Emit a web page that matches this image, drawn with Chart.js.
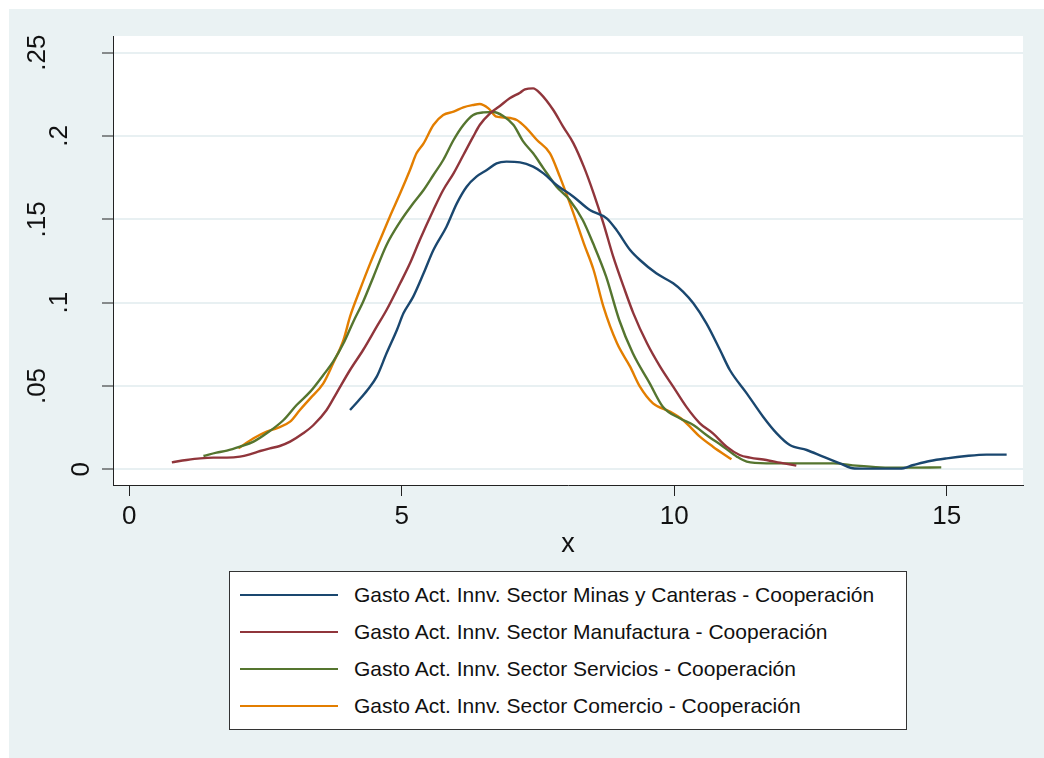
<!DOCTYPE html>
<html>
<head>
<meta charset="utf-8">
<script src="https://cdn.jsdelivr.net/npm/chart.js@4.4.1/dist/chart.umd.min.js"></script>
<style>
  html, body { margin: 0; padding: 0; background: #fff; }
  #wrap { position: absolute; left: 9px; top: 9px; width: 1035px; height: 749px; background: #eaf2f3; }
  #chart { display: block; }
  #legend {
    position: absolute; left: 220px; top: 562px; width: 676px; height: 157px;
    background: #fff; border: 1px solid #333;
    font-family: "Liberation Sans", Arial, sans-serif;
    font-size: 21px; color: #111;
  }
  .row { position: absolute; left: 0; height: 24px; display: flex; align-items: center; white-space: nowrap; }
  .sw { width: 98px; height: 2px; margin-left: 10px; margin-right: 16px; }
</style>
</head>
<body>
<div id="wrap">
  <canvas id="chart" width="1035" height="749"></canvas>
  <div id="legend"></div>
</div>
<script>
// Data (kernel density estimates)
var seriesNames = [
  "Gasto Act. Innv. Sector Minas y Canteras - Cooperación",
  "Gasto Act. Innv. Sector Manufactura - Cooperación",
  "Gasto Act. Innv. Sector Servicios - Cooperación",
  "Gasto Act. Innv. Sector Comercio - Cooperación"
];
var seriesColors = ["#1a476f", "#90353b", "#55752f", "#e37e00"];

var minasX = [4.05, 4.2, 4.37, 4.54, 4.72, 4.91, 5.03, 5.21, 5.40, 5.58, 5.82, 6.01, 6.19, 6.37, 6.56, 6.74, 6.92, 7.17, 7.41, 7.60, 7.84, 8.15, 8.45, 8.76, 8.94, 9.19, 9.37, 9.67, 9.98, 10.16, 10.35, 10.59, 10.84, 11.02, 11.33, 11.63, 11.88, 12.12, 12.43, 12.73, 13.04, 13.31, 13.65, 14.14, 14.39, 14.69, 15.0, 15.36, 15.73, 16.1];
var minasY = [.0356, .041, .0476, .0556, .0696, .0836, .0936, .1036, .1176, .1316, .1456, .1596, .1696, .1756, .1796, .1836, .1846, .1842, .1816, .1776, .1706, .1636, .1556, .1506, .1436, .1316, .1256, .1176, .1116, .1066, .0996, .0876, .0716, .0596, .0456, .0316, .0216, .0146, .0116, .0076, .0036, .0005, .0004, .0004, .0026, .005, .0066, .008, .0088, .0088];

var manufX = [0.78, 1.05, 1.30, 1.54, 1.79, 2.03, 2.21, 2.40, 2.58, 2.76, 2.95, 3.19, 3.38, 3.62, 3.80, 4.05, 4.29, 4.54, 4.72, 4.97, 5.15, 5.33, 5.58, 5.76, 5.95, 6.13, 6.31, 6.43, 6.62, 6.80, 6.98, 7.17, 7.26, 7.41, 7.54, 7.78, 7.96, 8.15, 8.34, 8.52, 8.70, 8.88, 9.07, 9.25, 9.50, 9.74, 9.98, 10.22, 10.47, 10.71, 10.96, 11.20, 11.39, 11.69, 11.94, 12.24];
var manufY = [.0042, .0056, .0066, .007, .007, .0076, .009, .011, .0126, .014, .0166, .0216, .0266, .0356, .0456, .0596, .0716, .0856, .0956, .1116, .1236, .1376, .1556, .1676, .1776, .1886, .1996, .2066, .2136, .218, .2226, .226, .228, .2286, .2256, .2156, .2056, .1956, .1816, .1656, .1476, .1276, .1096, .0936, .0756, .0616, .0496, .0376, .0276, .0216, .0136, .0086, .007, .0056, .004, .0022];

var servX = [1.36, 1.60, 1.79, 2.03, 2.28, 2.52, 2.83, 3.07, 3.32, 3.56, 3.74, 3.93, 4.11, 4.29, 4.48, 4.72, 4.97, 5.21, 5.40, 5.58, 5.76, 5.95, 6.13, 6.31, 6.50, 6.68, 6.86, 7.05, 7.23, 7.41, 7.60, 7.84, 8.08, 8.32, 8.51, 8.75, 8.99, 9.24, 9.55, 9.79, 10.10, 10.35, 10.59, 10.90, 11.15, 11.33, 11.69, 12.12, 12.92, 13.34, 13.78, 14.27, 14.90];
var servY = [.008, .010, .0112, .0136, .0166, .0216, .0296, .0386, .0466, .0566, .0646, .0756, .0886, .1006, .1156, .1346, .1486, .1596, .1676, .1766, .1856, .1976, .2066, .2126, .2142, .2144, .212, .2066, .1966, .1896, .1806, .1696, .1616, .1496, .1356, .1156, .0896, .0696, .0516, .0376, .0306, .0266, .0206, .0136, .0076, .0046, .0036, .0036, .0036, .0022, .0012, .001, .0012];

var comerX = [2.0, 2.28, 2.52, 2.70, 2.95, 3.13, 3.32, 3.56, 3.74, 3.93, 4.05, 4.23, 4.42, 4.60, 4.78, 4.97, 5.15, 5.27, 5.40, 5.58, 5.76, 5.95, 6.13, 6.31, 6.43, 6.59, 6.74, 6.92, 7.11, 7.29, 7.48, 7.72, 7.90, 8.15, 8.34, 8.52, 8.70, 8.95, 9.19, 9.37, 9.61, 9.92, 10.16, 10.47, 10.71, 11.05];
var comerY = [.0126, .0186, .0226, .0246, .0286, .0356, .0426, .0516, .0636, .0776, .0916, .1076, .1236, .1376, .1516, .1656, .1796, .1896, .1956, .2066, .2126, .2146, .2172, .2186, .2192, .2166, .2116, .211, .2096, .2046, .1976, .1896, .1756, .1536, .1356, .1196, .0976, .0756, .0616, .0496, .0396, .0346, .0296, .0196, .0136, .006];

var xTickValues = [0, 5, 10, 15];
var xTickLabels = ["0", "5", "10", "15"];
var yTickValues = [0, 0.05, 0.1, 0.15, 0.2, 0.25];
var yTickLabels = ["0", ".05", ".1", ".15", ".2", ".25"];
var xTitle = "x";

function toPoints(xs, ys) {
  return xs.map(function (x, i) { return { x: x, y: ys[i] }; });
}

var allX = [minasX, manufX, servX, comerX];
var allY = [minasY, manufY, servY, comerY];

var datasets = seriesNames.map(function (name, i) {
  return {
    label: name,
    data: toPoints(allX[i], allY[i]),
    borderColor: seriesColors[i],
    backgroundColor: seriesColors[i],
    borderWidth: 2.4,
    pointRadius: 0,
    fill: false,
    cubicInterpolationMode: "monotone"
  };
});

var tickFontFamily = "'Liberation Sans', Arial, sans-serif";
var tickFont = { family: tickFontFamily, size: 26 };

// white plot region
var plotBg = {
  id: "plotBg",
  beforeDraw: function (chart) {
    var a = chart.chartArea, ctx = chart.ctx;
    ctx.save();
    ctx.fillStyle = "#fff";
    ctx.fillRect(a.left, a.top, a.right - a.left, a.bottom - a.top);
    ctx.restore();
  }
};

// vertical y labels, staggered by string length like Stata places them
var yLabels = {
  id: "yLabels",
  afterDraw: function (chart) {
    var s = chart.scales.y, ctx = chart.ctx;
    ctx.save();
    ctx.fillStyle = "#111";
    ctx.font = "26px " + tickFontFamily;
    ctx.textAlign = "center";
    ctx.textBaseline = "middle";
    yTickValues.forEach(function (v, i) {
      var lab = yTickLabels[i];
      var cx = s.right - 31 - 22 * (lab.length - 1);
      ctx.save();
      ctx.translate(cx, s.getPixelForValue(v));
      ctx.rotate(-Math.PI / 2);
      ctx.fillText(lab, 0, 0);
      ctx.restore();
    });
    ctx.restore();
  }
};

var ctx = document.getElementById("chart");
var myChart = new Chart(ctx, {
  type: "line",
  data: { datasets: datasets },
  options: {
    responsive: false,
    animation: false,
    layout: { padding: { top: 27, right: 21, left: 0, bottom: 197 } },
    plugins: {
      legend: { display: false },
      tooltip: { enabled: false }
    },
    scales: {
      x: {
        type: "linear",
        min: -0.3,
        max: 16.4,
        afterFit: function (s) { s.height = 76; },
        afterBuildTicks: function (s) { s.ticks = xTickValues.map(function (v) { return { value: v }; }); },
        ticks: {
          callback: function (v, i) { return xTickLabels[i]; },
          font: tickFont, color: "#111", padding: 5, maxRotation: 0, autoSkip: false
        },
        grid: { drawOnChartArea: false, tickLength: 11, tickColor: "#222", tickWidth: 1 },
        border: { color: "#222", width: 1 },
        title: {
          display: true, text: xTitle, color: "#111",
          font: { family: tickFontFamily, size: 27 },
          padding: { top: 0, bottom: 0 }
        }
      },
      y: {
        type: "linear",
        min: -0.0094,
        max: 0.26,
        afterFit: function (s) { s.width = 104; },
        afterBuildTicks: function (s) { s.ticks = yTickValues.map(function (v) { return { value: v }; }); },
        ticks: { display: false, autoSkip: false },
        grid: { color: "#e8f0f2", lineWidth: 2, tickLength: 11, tickColor: "#222", tickWidth: 1 },
        border: { color: "#222", width: 1 }
      }
    }
  },
  plugins: [plotBg, yLabels]
});

// legend box (one entry per row, as in the original)
var legend = document.getElementById("legend");
myChart.data.datasets.forEach(function (ds, i) {
  var row = document.createElement("div");
  row.className = "row";
  row.style.top = (11 + i * 36.9) + "px";
  var sw = document.createElement("span");
  sw.className = "sw";
  sw.style.background = ds.borderColor;
  var txt = document.createElement("span");
  txt.textContent = ds.label;
  row.appendChild(sw);
  row.appendChild(txt);
  legend.appendChild(row);
});
</script>
</body>
</html>
